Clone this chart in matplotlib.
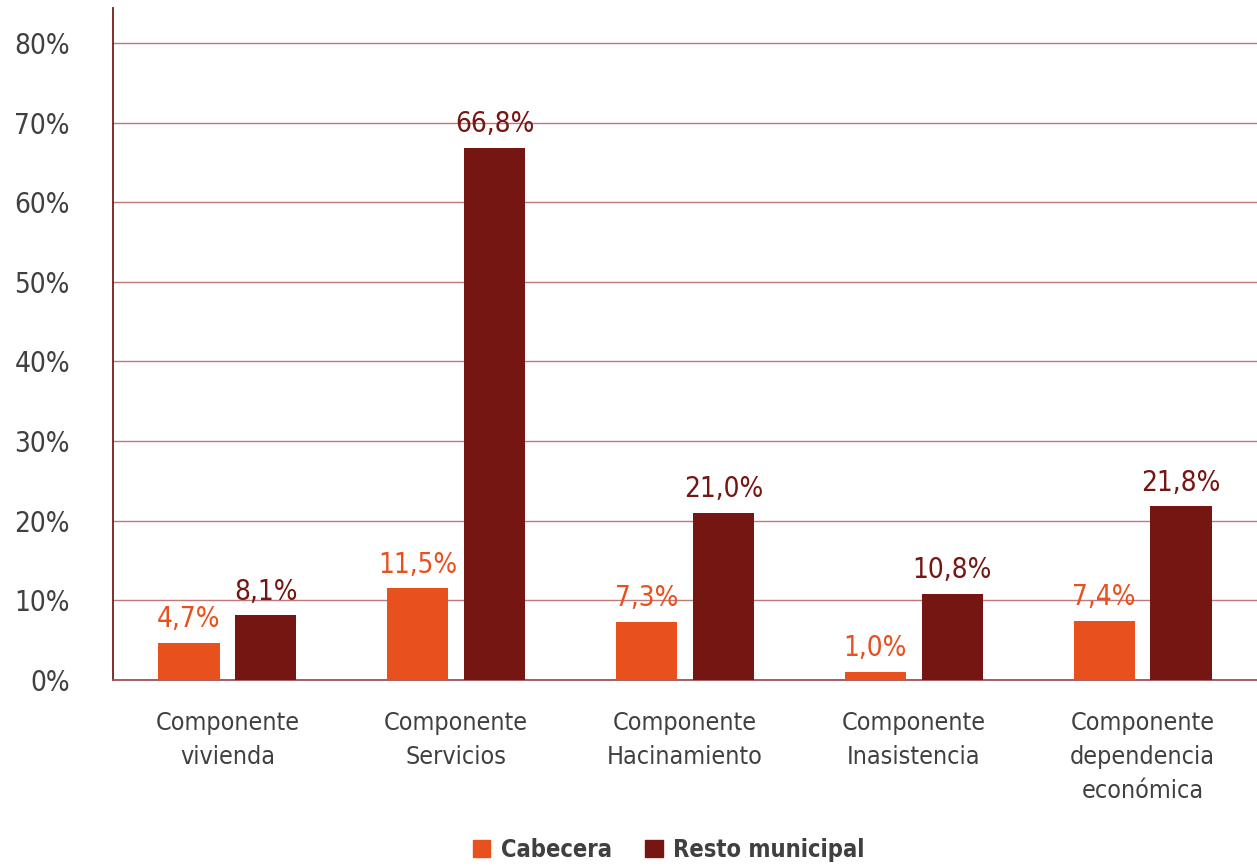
import matplotlib
matplotlib.use("Agg")
import matplotlib.pyplot as plt
import numpy as np
from matplotlib.patches import Patch

# Componentes del NBI por zona
categorias = ["Componente\nvivienda", "Componente\nServicios", "Componente\nHacinamiento",
              "Componente\nInasistencia", "Componente\ndependencia\neconómica"]
cabecera = [4.7, 11.5, 7.3, 1.0, 7.4]
resto = [8.1, 66.8, 21.0, 10.8, 21.8]
series = ["Cabecera", "Resto municipal"]

naranja = "#E8501E"
vinotinto = "#761612"
gris = "#404040"

plt.rcParams["font.family"] = ["DejaVu Sans"]
plt.rcParams["font.stretch"] = "condensed"

fig = plt.figure(figsize=(12.57, 8.67), dpi=100)
ax = fig.add_axes([0.0899, 0.2157, 0.9101, 0.7751])

x = np.arange(len(categorias))
ancho = 0.267
desp = 0.168
b1 = ax.bar(x - desp, cabecera, ancho, color=naranja, zorder=3)
b2 = ax.bar(x + desp, resto, ancho, color=vinotinto, zorder=3)

# etiquetas de valor sobre cada barra
for barras, vals, col in [(b1, cabecera, naranja), (b2, resto, vinotinto)]:
    for b, v in zip(barras, vals):
        ax.annotate(f"{v:.1f}%".replace(".", ","), (b.get_x() + b.get_width() / 2, v),
                    xytext=(0, 7), textcoords="offset points", ha="center", va="bottom",
                    color=col, fontsize=20)

ax.set_xlim(-0.5, 4.5)
ax.set_ylim(0, 84.4)
ax.set_yticks(np.arange(0, 81, 10))
ax.set_yticklabels([f"{t}%" for t in range(0, 81, 10)], fontsize=20, color=gris)
ax.set_xticks(x)
ax.set_xticklabels(categorias, fontsize=18, color=gris, linespacing=1.55)
ax.tick_params(axis="both", length=0)
ax.tick_params(axis="x", pad=22)
ax.tick_params(axis="y", pad=31)

ax.yaxis.grid(True, color="#c07878", linewidth=1, zorder=0)
ax.set_axisbelow(True)
for s in ["top", "right"]:
    ax.spines[s].set_visible(False)
ax.spines["left"].set_color("#7a1a1a")
ax.spines["left"].set_linewidth(1.3)
ax.spines["bottom"].set_color("#a05050")
ax.spines["bottom"].set_linewidth(1.3)

handles = [Patch(color=naranja), Patch(color=vinotinto)]
leg = fig.legend(handles, series, loc="center", bbox_to_anchor=(0.532, 0.02), ncol=2,
                 frameon=False, handlelength=0.75, handleheight=0.75, handletextpad=0.45,
                 columnspacing=1.4, prop={"size": 17, "weight": "bold", "stretch": "condensed"})
for t in leg.get_texts():
    t.set_color(gris)

fig.savefig("out.png", dpi=100)
